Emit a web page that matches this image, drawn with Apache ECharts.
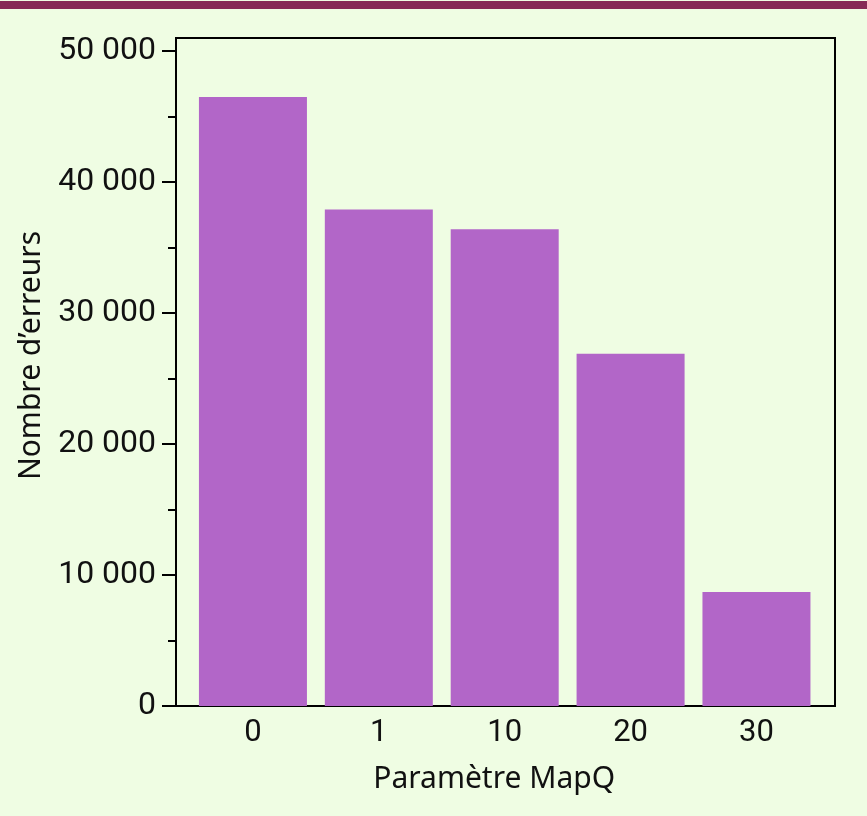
<!DOCTYPE html>
<html>
<head>
  <meta charset="utf-8">
  <title>MapQ</title>
  <script src="https://cdn.jsdelivr.net/npm/echarts@6/dist/echarts.min.js"></script>
  <style type="text/css">
    body {
      margin: 0;
      padding: 0;
      background: #effde3;
    }
    .box {
      width: 867px;
      height: 816px;
    }
  </style>
</head>
<body>
<div id="main" class="box"></div>
<script>
  // données
  var categories = ['0', '1', '10', '20', '30'];
  var errors = [46500, 37900, 36400, 26900, 8700];
  var majorTicks = [0, 10000, 20000, 30000, 40000, 50000];
  var minorTicks = [5000, 15000, 25000, 35000, 45000];
  var yMax = 51000;

  var labelFont = 'Roboto, "Noto Sans", sans-serif';
  var textFont = '"Noto Sans", "DejaVu Sans", sans-serif';

  var myChart = echarts.init(document.getElementById('main'));
  var option = {
    backgroundColor: '#effde3',
    animation: false,
    graphic: [{
      type: 'rect',
      shape: { x: 0, y: 1, width: 867, height: 8 },
      style: { fill: '#862a55' }
    }],
    grid: [
      // cadre
      { left: 176, right: 32, top: 38, bottom: 110, show: true, borderColor: '#000', borderWidth: 2, backgroundColor: 'transparent' },
      // barres
      { left: 190, right: 47.6, top: 38, bottom: 110 }
    ],
    xAxis: [
      { gridIndex: 0, type: 'value', min: 0, max: 1, show: false },
      {
        gridIndex: 1,
        type: 'category',
        data: categories,
        axisLine: { show: false },
        axisTick: { show: false },
        axisLabel: {
          margin: 12,
          fontFamily: labelFont,
          fontSize: 31,
          color: '#111'
        },
        name: 'Paramètre MapQ',
        nameLocation: 'middle',
        nameGap: 58,
        nameTextStyle: {
          fontFamily: textFont,
          fontSize: 30,
          color: '#111',
          padding: [0, 21, 0, 0]
        }
      }
    ],
    yAxis: [
      {
        gridIndex: 0,
        type: 'value',
        position: 'left',
        min: 0,
        max: yMax,
        axisLine: { show: true, lineStyle: { color: '#000', width: 2 } },
        splitLine: { show: false },
        axisTick: { show: true, length: 14, customValues: majorTicks, lineStyle: { color: '#000', width: 2 } },
        axisLabel: {
          customValues: majorTicks,
          margin: 20,
          fontFamily: labelFont,
          fontSize: 32,
          color: '#111',
          formatter: function (v) {
            return String(v).replace(/\B(?=(\d{3})+(?!\d))/g, ' ');
          }
        },
        name: 'Nombre d\u2019erreurs',
        nameLocation: 'middle',
        nameGap: 130,
        nameRotate: 90,
        nameTextStyle: {
          fontFamily: textFont,
          fontSize: 30,
          color: '#111',
          padding: [0, 0, 0, 33]
        }
      },
      {
        gridIndex: 0,
        type: 'value',
        position: 'left',
        min: 0,
        max: yMax,
        axisLine: { show: false },
        splitLine: { show: false },
        axisLabel: { show: false },
        axisTick: { show: true, length: 8, customValues: minorTicks, lineStyle: { color: '#000', width: 2 } }
      },
      { gridIndex: 1, type: 'value', min: 0, max: yMax, show: false }
    ],
    series: [{
      type: 'bar',
      xAxisIndex: 1,
      yAxisIndex: 2,
      barWidth: 108,
      itemStyle: { color: '#b266c8' },
      data: errors
    }]
  };
  myChart.setOption(option);
</script>
</body>
</html>
